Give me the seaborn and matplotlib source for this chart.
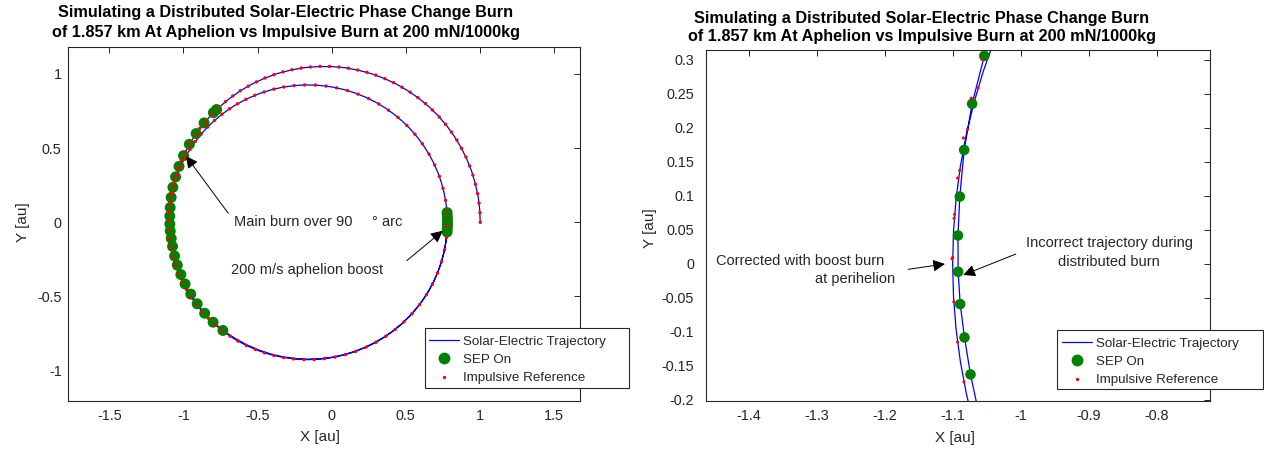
import numpy as np
import pandas as pd
import matplotlib
matplotlib.use("Agg")
import matplotlib.pyplot as plt
from matplotlib.lines import Line2D
from matplotlib.patches import Rectangle
import seaborn as sns

# ---- trajectory samples: polar angle [deg] and heliocentric distance [au] ----
# coast on the starting orbit
coast_theta = [0, 5, 10, 15, 20, 25, 30, 35, 40, 45, 50, 55, 60, 65, 70, 75, 80,
               85, 90, 95, 100, 105, 110, 115, 120, 125, 130]
coast_r = [1.002, 1.002, 1.003, 1.003, 1.005, 1.006, 1.008, 1.010, 1.013, 1.016,
           1.019, 1.022, 1.025, 1.029, 1.033, 1.037, 1.041, 1.046, 1.050, 1.054,
           1.059, 1.063, 1.068, 1.072, 1.076, 1.080, 1.083]

# main distributed burn (thruster on)
burn_theta = [135.6, 137.2, 142.1, 146.8, 151.3, 155.8, 159.9, 163.8, 167.6, 171.2,
              174.8, 177.8, 180.6, 183.1, 185.7, 188.6, 192.1, 195.5, 199.1, 202.8,
              207.0, 211.2, 215.6, 220.1, 224.8]
burn_r = [1.087, 1.088, 1.091, 1.093, 1.095, 1.096, 1.097, 1.097, 1.097, 1.096,
          1.094, 1.093, 1.092, 1.0905, 1.088, 1.086, 1.084, 1.081, 1.077, 1.073,
          1.067, 1.061, 1.054, 1.046, 1.035]

# drift after the burn
drift_theta = [230, 235, 240, 245, 250, 255, 260, 265, 270, 275, 280, 285, 290,
               295, 300, 305, 310, 315, 320, 325, 330, 335, 340, 345, 350, 355]
drift_r = [1.0192, 1.0062, 0.9927, 0.9790, 0.9650, 0.9510, 0.9371, 0.9234, 0.9100,
           0.8970, 0.8844, 0.8724, 0.8609, 0.8501, 0.8400, 0.8306, 0.8219, 0.8140,
           0.8070, 0.8007, 0.7952, 0.7906, 0.7868, 0.7838, 0.7817, 0.7804]

# 200 m/s boost (thruster on)
boost_theta = [355.2, 356.8, 358.4, 360.0, 361.6, 363.2, 364.8]
boost_r = [0.781, 0.781, 0.781, 0.781, 0.781, 0.781, 0.781]

# following lap
lap_theta = [5, 10, 15, 20, 25, 30, 35, 40, 45, 50, 55, 60, 65, 70, 75, 80, 85, 90,
             95, 100, 105, 110, 115, 120, 125, 130, 135, 140, 145,
             150, 152.5, 155, 157.5, 160, 162.5, 165, 167.5, 170, 172.5, 175, 177.5,
             180, 182.5, 185, 187.5, 190, 192.5, 195, 197.5, 200, 202.5, 205, 207.5,
             210, 215, 220, 225, 230, 235, 240, 245, 250, 255, 260, 265, 270, 275,
             280, 285, 290, 295, 300, 305, 310, 315, 320, 325, 330, 335, 340, 345,
             350, 355, 360]
lap_r = [0.7805, 0.7818, 0.7839, 0.7869, 0.7908, 0.7955, 0.8011, 0.8075, 0.8147,
         0.8228, 0.8316, 0.8412, 0.8516, 0.8626, 0.8743, 0.8866, 0.8995, 0.9128,
         0.9266, 0.9406, 0.9549, 0.9692, 0.9836, 0.9977, 1.0116, 1.0249, 1.0377,
         1.0497, 1.0607,
         1.0706, 1.0751, 1.0793, 1.0831, 1.0866, 1.0897, 1.0924, 1.0947, 1.0966,
         1.0981, 1.0992, 1.0998, 1.1000, 1.0998, 1.0992, 1.0981, 1.0966, 1.0947,
         1.0924, 1.0897, 1.0866, 1.0831, 1.0793, 1.0751,
         1.0706, 1.0607, 1.0497, 1.0377, 1.0249, 1.0116, 0.9977, 0.9836, 0.9692,
         0.9549, 0.9406, 0.9266, 0.9128, 0.8995, 0.8866, 0.8743, 0.8626, 0.8516,
         0.8412, 0.8316, 0.8228, 0.8147, 0.8075, 0.8011, 0.7955, 0.7908, 0.7869,
         0.7839, 0.7818, 0.7805, 0.7800]

# impulsive reference, sampled at equal time steps
ref_theta = [0, 3.7, 7.4, 11.1, 14.8, 18.5, 22.2, 25.9, 29.6, 33.3,
             37.0, 40.7, 44.4, 48.1, 51.7, 55.3, 58.9, 62.5, 66.1, 69.7,
             73.3, 76.8, 80.3, 83.8, 87.3, 90.8, 94.3, 97.8, 101.2, 104.6,
             108.0, 111.4, 114.8, 118.2, 121.5, 124.8, 128.1, 131.4, 134.7, 138.0,
             141.3, 144.6, 147.8, 151.0, 154.3, 157.6, 160.9, 164.1, 167.2, 170.3,
             173.4, 176.5, 179.6,
             182.9, 186.0, 189.1, 192.2, 195.3, 198.4, 201.6, 204.8, 208.0, 211.3,
             214.6, 217.9, 221.3, 224.7, 228.2, 231.7, 235.3, 239.0, 242.7, 246.5,
             250.4, 254.4, 258.5, 262.7, 267.0, 271.4, 275.9, 280.6, 285.4, 290.3,
             295.4, 300.6, 305.9, 311.3, 316.9, 322.6, 328.4, 334.3, 340.3, 346.3,
             352.4, 358.6, 4.7, 10.9, 17.0, 23.1, 29.1, 35.0, 40.9, 46.6,
             52.2, 57.7, 63.1, 68.3, 73.4, 78.4, 83.2, 87.9, 92.4, 96.8,
             101.2, 105.4, 109.5, 113.5, 117.4, 121.2, 124.9, 128.5, 132.0, 135.5,
             139.0, 142.5, 146.0, 149.4, 152.8, 156.2, 159.6, 163.0, 166.3, 169.6,
             172.8, 176.2, 179.5]
ref_r = [1.002, 1.002, 1.002, 1.003, 1.003, 1.004, 1.005, 1.007, 1.008, 1.010,
         1.011, 1.013, 1.015, 1.017, 1.020, 1.022, 1.025, 1.027, 1.030, 1.033,
         1.036, 1.039, 1.042, 1.045, 1.048, 1.051, 1.054, 1.057, 1.060, 1.063,
         1.066, 1.069, 1.072, 1.074, 1.077, 1.080, 1.082, 1.084, 1.087, 1.089,
         1.091, 1.093, 1.094, 1.095, 1.096, 1.097, 1.098, 1.099, 1.100, 1.100,
         1.100, 1.100, 1.101,
         1.0997, 1.0988, 1.0972, 1.0950, 1.0921, 1.0886, 1.0844, 1.0796, 1.0743, 1.0681,
         1.0615, 1.0544, 1.0466, 1.0384, 1.0296, 1.0204, 1.0109, 1.0005, 0.9901, 0.9793,
         0.9681, 0.9566, 0.9449, 0.9330, 0.9210, 0.9090, 0.8971, 0.8851, 0.8733, 0.8619,
         0.8507, 0.8400, 0.8300, 0.8207, 0.8119, 0.8041, 0.7972, 0.7914, 0.7867, 0.7833,
         0.7810, 0.7801, 0.7804, 0.7821, 0.7850, 0.7892, 0.7946, 0.8011, 0.8088, 0.8172,
         0.8267, 0.8368, 0.8475, 0.8587, 0.8705, 0.8826, 0.8948, 0.9071, 0.9193, 0.9316,
         0.9440, 0.9560, 0.9678, 0.9793, 0.9901, 1.0011, 1.0113, 1.0210, 1.0301, 1.0389,
         1.0473, 1.0553, 1.0628, 1.0695, 1.0756, 1.0812, 1.0861, 1.0903, 1.0937, 1.0963,
         1.0983, 1.0996, 1.1000]

# tick labels
left_xticks = [-1.5, -1, -0.5, 0, 0.5, 1, 1.5]
left_xticklabels = ["-1.5", "-1", "-0.5", "0", "0.5", "1", "1.5"]
left_yticks = [-1, -0.5, 0, 0.5, 1]
left_yticklabels = ["-1", "-0.5", "0", "0.5", "1"]
right_xticks = [-1.4, -1.3, -1.2, -1.1, -1.0, -0.9, -0.8]
right_xticklabels = ["-1.4", "-1.3", "-1.2", "-1.1", "-1", "-0.9", "-0.8"]
right_yticks = [-0.2, -0.15, -0.1, -0.05, 0, 0.05, 0.1, 0.15, 0.2, 0.25, 0.3]
right_yticklabels = ["-0.2", "-0.15", "-0.1", "-0.05", "0", "0.05", "0.1", "0.15",
                     "0.2", "0.25", "0.3"]

title_lines = ["Simulating a Distributed Solar-Electric Phase Change Burn",
               "of 1.857 km At Aphelion vs Impulsive Burn at 200 mN/1000kg"]
legend_labels = ["Solar-Electric Trajectory", "SEP On", "Impulsive Reference"]


def to_xy(theta, r):
    t = np.deg2rad(np.asarray(theta, dtype=float))
    r = np.asarray(r, dtype=float)
    return pd.DataFrame({"x": r * np.cos(t), "y": r * np.sin(t)})


traj = to_xy(coast_theta + burn_theta + drift_theta + boost_theta + lap_theta,
             coast_r + burn_r + drift_r + boost_r + lap_r)
sep_on = to_xy(burn_theta + boost_theta, burn_r + boost_r)
reference = to_xy(ref_theta, ref_r)

sns.set_theme(style="white")
plt.rcParams["font.family"] = ["Liberation Sans", "DejaVu Sans"]
plt.rcParams["axes.unicode_minus"] = False

INK = "#262626"
W, H = 1264, 449
fig = plt.figure(figsize=(W / 100, H / 100), dpi=100)
ax1 = fig.add_axes([68 / W, 48 / H, 512 / W, 354 / H])
ax2 = fig.add_axes([706 / W, 48 / H, 504 / W, 351 / H])


def draw(ax, xlim, ylim, green_size, red_size):
    sns.lineplot(data=traj, x="x", y="y", sort=False, estimator=None,
                 color="blue", lw=0.9, ax=ax, legend=False)
    inside = lambda d: d[(d.x >= xlim[0]) & (d.x <= xlim[1]) &
                         (d.y >= ylim[0]) & (d.y <= ylim[1])]
    sns.scatterplot(data=inside(sep_on), x="x", y="y", color="green",
                    s=green_size, edgecolor="none", ax=ax, legend=False,
                    clip_on=False, zorder=3)
    sns.scatterplot(data=inside(reference), x="x", y="y", color="red",
                    s=red_size, edgecolor="none", ax=ax, legend=False,
                    clip_on=False, zorder=4)
    ax.set_xlim(*xlim)
    ax.set_ylim(*ylim)
    for sp in ax.spines.values():
        sp.set_visible(True)
        sp.set_color(INK)
        sp.set_linewidth(0.8)
    ax.tick_params(direction="in", length=4.5, width=0.7, top=True, right=True,
                   colors=INK, labelsize=10.4, labelcolor=INK)


draw(ax1, (-1.779, 1.675), (-1.205, 1.182), 62, 6)
draw(ax2, (-1.4627, -0.7216), (-0.2015, 0.3147), 58, 5)

ax1.set_xticks(left_xticks, left_xticklabels)
ax1.set_yticks(left_yticks, left_yticklabels)
ax2.set_xticks(right_xticks, right_xticklabels)
ax2.set_yticks(right_yticks, right_yticklabels)
ax1.tick_params(axis="y", pad=4.5)
ax2.tick_params(axis="y", pad=8.5)
ax1.tick_params(axis="x", pad=6)
ax2.tick_params(axis="x", pad=6)

for ax, (xl, yl) in ((ax1, ((0.492, -0.083), (-0.075, 0.506))),
                     (ax2, ((0.494, -0.086), (-0.097, 0.493)))):
    ax.set_xlabel("X [au]", fontsize=11, color=INK)
    ax.set_ylabel("Y [au]", fontsize=11, color=INK)
    ax.xaxis.set_label_coords(*xl)
    ax.yaxis.set_label_coords(*yl)

# titles
for cx, ys in ((286, (13, 32)), (922, (18, 37))):
    for line, yy in zip(title_lines, ys):
        fig.text(cx / W, 1 - yy / H, line, ha="center", va="center",
                 fontsize=11.7, fontweight="bold", color="black")

# annotations
arrow = dict(arrowstyle="-|>", color="black", lw=0.7, mutation_scale=18,
             shrinkA=0, shrinkB=0)
afs = 10.5
ax1.annotate("", xy=(-0.983, 0.447), xytext=(-0.698, 0.061), arrowprops=arrow)
ax1.text(-0.659, 0.004, "Main burn over 90", fontsize=afs, va="center", ha="left")
ax1.text(0.272, 0.004, "° arc", fontsize=afs, va="center", ha="left")
ax1.annotate("", xy=(0.749, -0.057), xytext=(0.506, -0.259), arrowprops=arrow)
ax1.text(-0.679, -0.322, "200 m/s aphelion boost", fontsize=afs, va="center", ha="left")

ax2.annotate("", xy=(-1.1113, 0.0), xytext=(-1.1653, -0.0078), arrowprops=arrow)
ax2.text(-1.448, 0.005, "Corrected with boost burn", fontsize=afs, va="center", ha="left")
ax2.text(-1.302, -0.0225, "at perihelion", fontsize=afs, va="center", ha="left")
ax2.annotate("", xy=(-1.0844, -0.0162), xytext=(-1.007, 0.0147), arrowprops=arrow)
ax2.text(-0.870, 0.031, "Incorrect trajectory during", fontsize=afs, va="center", ha="center")
ax2.text(-0.870, 0.003, "distributed burn", fontsize=afs, va="center", ha="center")

# legends: an opaque box plus frameless entries
handles = [Line2D([], [], color="blue", lw=0.9),
           Line2D([], [], ls="none", marker="o", color="green", ms=8.5, mec="none"),
           Line2D([], [], ls="none", marker="o", color="red", ms=2.4, mec="none")]
for ax, box, (lx, ly) in ((ax1, (425, 328, 629, 388), (429, 335.5)),
                          (ax2, (1057, 330, 1263, 389), (1062, 337.5))):
    x0, y0, x1, y1 = box
    ax.add_patch(Rectangle((x0 / W, 1 - y1 / H), (x1 - x0) / W, (y1 - y0) / H,
                           transform=fig.transFigure, facecolor="white",
                           edgecolor=INK, lw=0.8, clip_on=False, zorder=9))
    leg = ax.legend(handles, legend_labels, loc="upper left",
                    bbox_to_anchor=(lx / W, 1 - ly / H), bbox_transform=fig.transFigure,
                    fontsize=9.6, frameon=False, borderpad=0, labelspacing=0.445,
                    handlelength=2.25, handletextpad=0.3, borderaxespad=0)
    leg.set_zorder(10)

fig.savefig("out.png", dpi=100)
